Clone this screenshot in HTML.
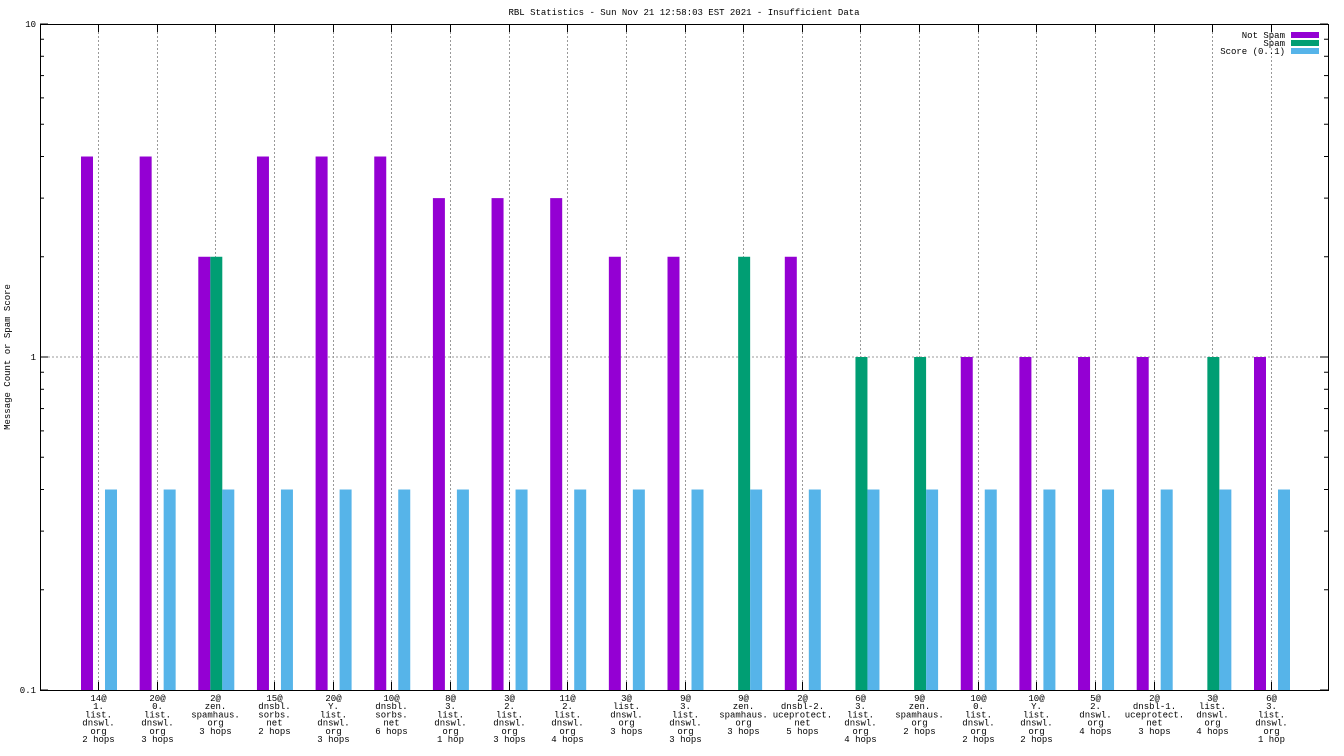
<!DOCTYPE html>
<html><head><meta charset="utf-8"><style>
html,body{margin:0;padding:0;background:#fff;}
svg{display:block;font-family:"Liberation Mono","DejaVu Sans Mono",monospace;}
</style></head><body>
<svg id="chart" width="1344" height="756" xmlns="http://www.w3.org/2000/svg">
<rect width="1344" height="756" fill="#fff"/>
<text x="684" y="15" font-size="9" text-anchor="middle">RBL Statistics - Sun Nov 21 12:58:03 EST 2021 - Insufficient Data</text>
<text x="10" y="357" font-size="9" text-anchor="middle" transform="rotate(-90 10 357)">Message Count or Spam Score</text>
<g id="plot"></g>
</svg>
<script>
const categories = [
"14@|1.|list.|dnswl.|org|2 hops","20@|0.|list.|dnswl.|org|3 hops","2@|zen.|spamhaus.|org|3 hops",
"15@|dnsbl.|sorbs.|net|2 hops","20@|Y.|list.|dnswl.|org|3 hops","10@|dnsbl.|sorbs.|net|6 hops",
"8@|3.|list.|dnswl.|org|1 hop","3@|2.|list.|dnswl.|org|3 hops","11@|2.|list.|dnswl.|org|4 hops",
"3@|list.|dnswl.|org|3 hops","9@|3.|list.|dnswl.|org|3 hops","9@|zen.|spamhaus.|org|3 hops",
"2@|dnsbl-2.|uceprotect.|net|5 hops","6@|3.|list.|dnswl.|org|4 hops","9@|zen.|spamhaus.|org|2 hops",
"10@|0.|list.|dnswl.|org|2 hops","10@|Y.|list.|dnswl.|org|2 hops","5@|2.|dnswl.|org|4 hops",
"2@|dnsbl-1.|uceprotect.|net|3 hops","3@|list.|dnswl.|org|4 hops","6@|3.|list.|dnswl.|org|1 hop"];
const notSpam = [4,4,2,4,4,4,3,3,3,2,2,0,2,0,0,1,1,1,1,0,1];
const spam = [0,0,2,0,0,0,0,0,0,0,0,2,0,1,1,0,0,0,0,1,0];
const score = [0.4,0.4,0.4,0.4,0.4,0.4,0.4,0.4,0.4,0.4,0.4,0.4,0.4,0.4,0.4,0.4,0.4,0.4,0.4,0.4,0.4];
const yTicks = [0.1,1,10];
const yTickLabels = ["0.1","1","10"];

const L=40,R=1328,T=24,B=690;
const y = v => B - (Math.log10(v) - Math.log10(0.1)) / 2 * (B - T);
const x0 = 98, step = (1271-98)/20;
const xc = i => x0 + i*step;
const NS='http://www.w3.org/2000/svg';
const g=document.getElementById('plot');
function mk(tag,attrs){const e=document.createElementNS(NS,tag);for(const k in attrs)e.setAttribute(k,attrs[k]);g.appendChild(e);return e;}

// horizontal grid + y ticks
yTicks.forEach((v,k)=>{
  const yy=y(v);
  if(k>0&&k<yTicks.length-1){const gl=mk('line',{x1:L,x2:R,y1:yy,y2:yy,stroke:'#999','stroke-dasharray':'2,2','stroke-width':1});
  
  }
  const t=mk('text',{x:L-4,y:yy+3,'font-size':9,'text-anchor':'end'});t.textContent=yTickLabels[k];
  
  
  mk('line',{x1:L,x2:L+8,y1:yy,y2:yy,stroke:'#000'});
  mk('line',{x1:R,x2:R-8,y1:yy,y2:yy,stroke:'#000'});
});
[0.1,1].forEach(d=>{for(let m=2;m<10;m++){const yy=y(d*m);
  mk('line',{x1:L,x2:L+4,y1:yy,y2:yy,stroke:'#000'});
  mk('line',{x1:R,x2:R-4,y1:yy,y2:yy,stroke:'#000'});}});

// vertical grid + labels
categories.forEach((c,i)=>{
  const xx=Math.round(xc(i))+0.5;
  const vl=mk('line',{x1:xx,x2:xx,y1:T,y2:B,stroke:'#999','stroke-dasharray':'2,2'});
  
  
  mk('line',{x1:xx,x2:xx,y1:B,y2:B-8,stroke:'#000'});
  mk('line',{x1:xx,x2:xx,y1:T,y2:T+8,stroke:'#000'});
  c.split('|').forEach((ln,j)=>{
    const t=mk('text',{x:xx,y:701+j*8.2,'font-size':9,'text-anchor':'middle'});t.textContent=ln;
    
    
  });
});

// bars
const bw=12;
function bar(i,v,off,col,name){
  if(!(v>0))return;
  const yy=y(v);
  const r=mk('rect',{x:xc(i)+off,y:yy,width:bw,height:B-yy,fill:col});
  
  
}
categories.forEach((c,i)=>{
  bar(i,notSpam[i],-17,'#9400d3','bar-not-spam');
  bar(i,spam[i],-5,'#009e73','bar-spam');
  bar(i,score[i],7,'#56b4e9','bar-score');
});

// frame
const fr=mk('rect',{x:L+0.5,y:T+0.5,width:R-L,height:B-T,fill:'none',stroke:'#000'});



// legend
const leg=[["Not Spam","#9400d3"],["Spam","#009e73"],["Score (0..1)","#56b4e9"]];
leg.forEach((l,k)=>{
  const yy=35+k*8;
  const t=mk('text',{x:1285,y:yy+3,'font-size':9,'text-anchor':'end'});t.textContent=l[0];
  
  
  const s=mk('rect',{x:1291,y:yy-3,width:28,height:6,fill:l[1]});
  
  
});
</script>
</body></html>
